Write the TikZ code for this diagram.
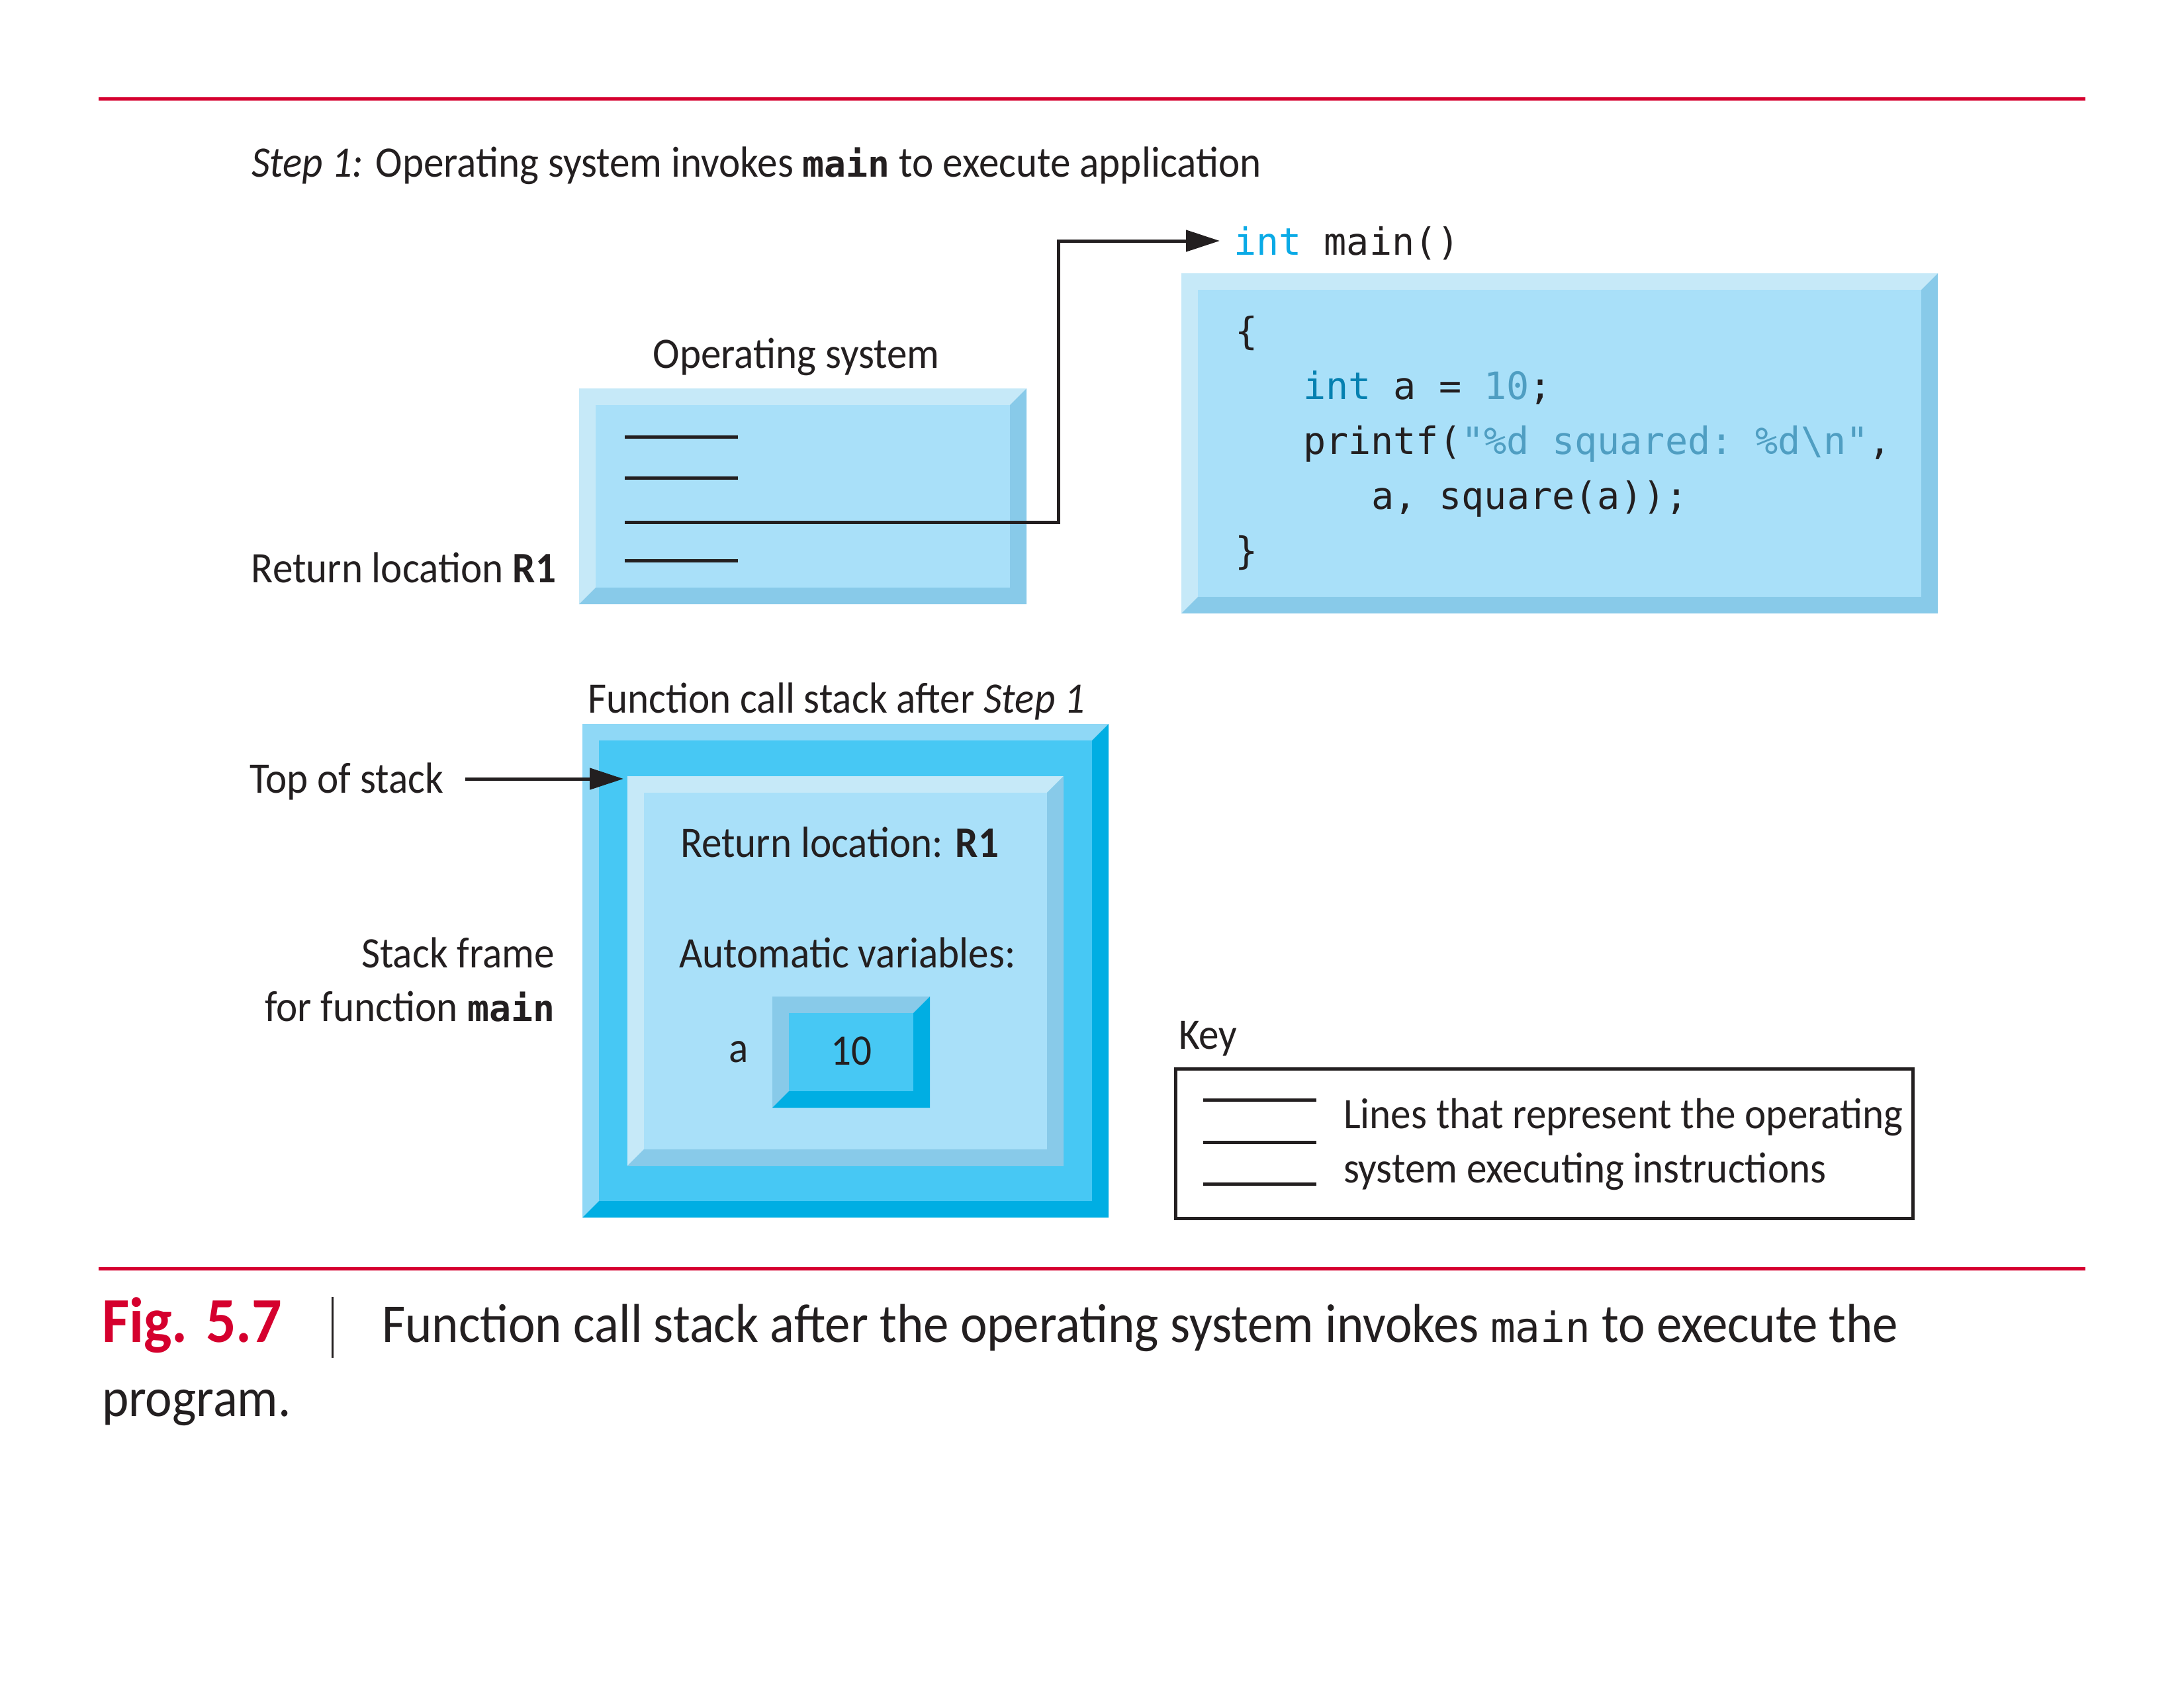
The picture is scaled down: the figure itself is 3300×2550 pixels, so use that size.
\documentclass[tikz,border=0pt]{standalone}
\usepackage{fontspec}
\setmainfont{Carlito}[FakeStretch=0.93]
\setmonofont{DejaVu Sans Mono}
\usetikzlibrary{arrows.meta}
\definecolor{ink}{HTML}{231F20}
\definecolor{figred}{HTML}{D5002E}
\definecolor{faceL}{HTML}{A9E0F9}
\definecolor{lightL}{HTML}{C6E9F8}
\definecolor{darkL}{HTML}{88CAE9}
\definecolor{faceM}{HTML}{47C8F4}
\definecolor{lightM}{HTML}{8FD8F6}
\definecolor{darkM}{HTML}{00AEE3}
\definecolor{kwbright}{HTML}{0AAAE6}
\definecolor{kwdark}{HTML}{0580B0}
\definecolor{litcol}{HTML}{4F9EC2}
\newcommand\mainb{{\fontsize{55}{60}\selectfont\ttfamily\bfseries main}}
\newcommand\mainc{{\fontsize{63}{70}\selectfont\ttfamily main}}
% #1 name, #2 x1, #3 y1, #4 x2, #5 y2, #6 bevel, #7 face, #8 light, #9 dark
\newcommand\bevbox[9]{%
  \fill[#8] (#2,#3) -- (#4,#3) -- (#4-#6,#3+#6) -- (#2+#6,#5-#6) -- (#2,#5) -- cycle;
  \fill[#9] (#4,#3) -- (#4,#5) -- (#2,#5) -- (#2+#6,#5-#6) -- (#4-#6,#5-#6) -- (#4-#6,#3+#6) -- cycle;
  \fill[#7] (#2+#6,#3+#6) rectangle (#4-#6,#5-#6);
  \coordinate (#1-nw) at (#2,#3);
  \coordinate (#1-se) at (#4,#5);
}
\begin{document}
\begin{tikzpicture}[x=1bp,y=-1bp,
  every node/.style={inner sep=0pt,outer sep=0pt,text=ink},
  body/.style={font=\fontsize{66}{80}\selectfont},
  code/.style={font=\fontsize{57}{80}\selectfont\ttfamily},
  capt/.style={font=\fontsize{83}{100}\selectfont},
  oline/.style={draw=ink,line width=5bp},
  conn/.style={draw=ink,line width=5bp,-{Triangle[length=51bp,width=32bp]}},
  redrule/.style={draw=figred,line width=5bp}]
\useasboundingbox (0,0) rectangle (3300,2550);
\fill[white] (0,0) rectangle (3300,2550);

% red rules
\coordinate (rt1) at (149,149);
\coordinate (rt2) at (3151,149);
\coordinate (rb1) at (149,1917);
\coordinate (rb2) at (3151,1917);
\draw[redrule] (rt1) -- (rt2);
\draw[redrule] (rb1) -- (rb2);

% Step 1 text
\node[body,anchor=base west] (step) at (380,267)
  {\textit{Step 1:} Operating system invokes \mainb{} to execute application};

% Operating system box
\bevbox{os}{875}{587}{1551}{913}{25}{faceL}{lightL}{darkL}
\node[body,anchor=base] (oslbl) at (1203,556) {Operating system};
\node[body,anchor=base east] (retloc) at (840,880) {Return location \textbf{R1}};
\coordinate (l1s) at (944,660); \coordinate (l1e) at (1115,660);
\coordinate (l2s) at (944,722); \coordinate (l2e) at (1115,722);
\coordinate (l3s) at (944,789); \coordinate (bend) at (1599,789);
\coordinate (l4s) at (944,847); \coordinate (l4e) at (1115,847);
\draw[oline] (l1s) -- (l1e);
\draw[oline] (l2s) -- (l2e);
\draw[oline] (l4s) -- (l4e);

% code box
\bevbox{cb}{1785}{413}{2928}{927}{25}{faceL}{lightL}{darkL}
\node[code,anchor=base west] (mainlbl) at (1864,385) {\textcolor{kwbright}{int} main()};
\coordinate (maintip) at (1843,364);
\draw[conn] (l3s) -- (bend) |- (maintip);
\node[code,anchor=base west] (c1) at (1866,520) {\{};
\node[code,anchor=base west] (c2) at (1969,603) {\textcolor{kwdark}{int} a = \textcolor{litcol}{10};};
\node[code,anchor=base west] (c3) at (1969,686) {printf(\textcolor{litcol}{"\%d squared: \%d\textbackslash n"},};
\node[code,anchor=base west] (c4) at (2072,769) {a, square(a));};
\node[code,anchor=base west] (c5) at (1866,852) {\}};

% stack
\node[body,anchor=base west] (stacklbl) at (888,1077) {Function call stack after \textit{Step 1}};
\bevbox{so}{880}{1094}{1675}{1840}{25}{faceM}{lightM}{darkM}
\bevbox{si}{948}{1173}{1607}{1762}{25}{faceL}{lightL}{darkL}
\bevbox{sv}{1167}{1506}{1405}{1674}{25}{faceM}{darkL}{darkM}
\node[body,anchor=base west] (tos) at (377,1198) {Top of stack};
\coordinate (tostip) at (942,1177);
\coordinate (tosstart) at (703,1177);
\draw[conn] (tosstart) -- (tostip);
\node[body,anchor=base east] (sf1) at (838,1462) {Stack frame};
\node[body,anchor=base east] (sf2) at (838,1543) {for function \mainb};
\node[body,anchor=base west] (rl) at (1028,1295) {Return location: \textbf{R1}};
\node[body,anchor=base west] (av) at (1026,1462) {Automatic variables:};
\node[body,anchor=base west] (va) at (1101,1605) {a};
\node[body,anchor=base] (v10) at (1286,1609) {10};

% key
\node[body,anchor=base west] (keylbl) at (1781,1585) {Key};
\node[draw=ink,line width=5bp,minimum width=1114bp,minimum height=226bp,anchor=north west] (keybox) at (1776,1615) {};
\coordinate (k1s) at (1818,1662); \coordinate (k1e) at (1989,1662);
\coordinate (k2s) at (1818,1726); \coordinate (k2e) at (1989,1726);
\coordinate (k3s) at (1818,1789); \coordinate (k3e) at (1989,1789);
\draw[oline] (k1s) -- (k1e);
\draw[oline] (k2s) -- (k2e);
\draw[oline] (k3s) -- (k3e);
\node[body,anchor=base west] (kt1) at (2030,1705) {Lines that represent the operating};
\node[body,anchor=base west] (kt2) at (2030,1787) {system executing instructions};

% caption
\node[font=\fontsize{97}{110}\selectfont\bfseries,anchor=base west,text=figred] (fig) at (154,2028) {Fig. 5.7};
\coordinate (bar1) at (502,1960);
\coordinate (bar2) at (502,2052);
\draw[ink,line width=3bp] (bar1) -- (bar2);
\node[capt,anchor=base west] (cap1) at (577,2028)
  {Function call stack after the operating system invokes \mainc{} to execute the};
\node[capt,anchor=base west] (cap2) at (154,2140) {program.};
\end{tikzpicture}
\end{document}
